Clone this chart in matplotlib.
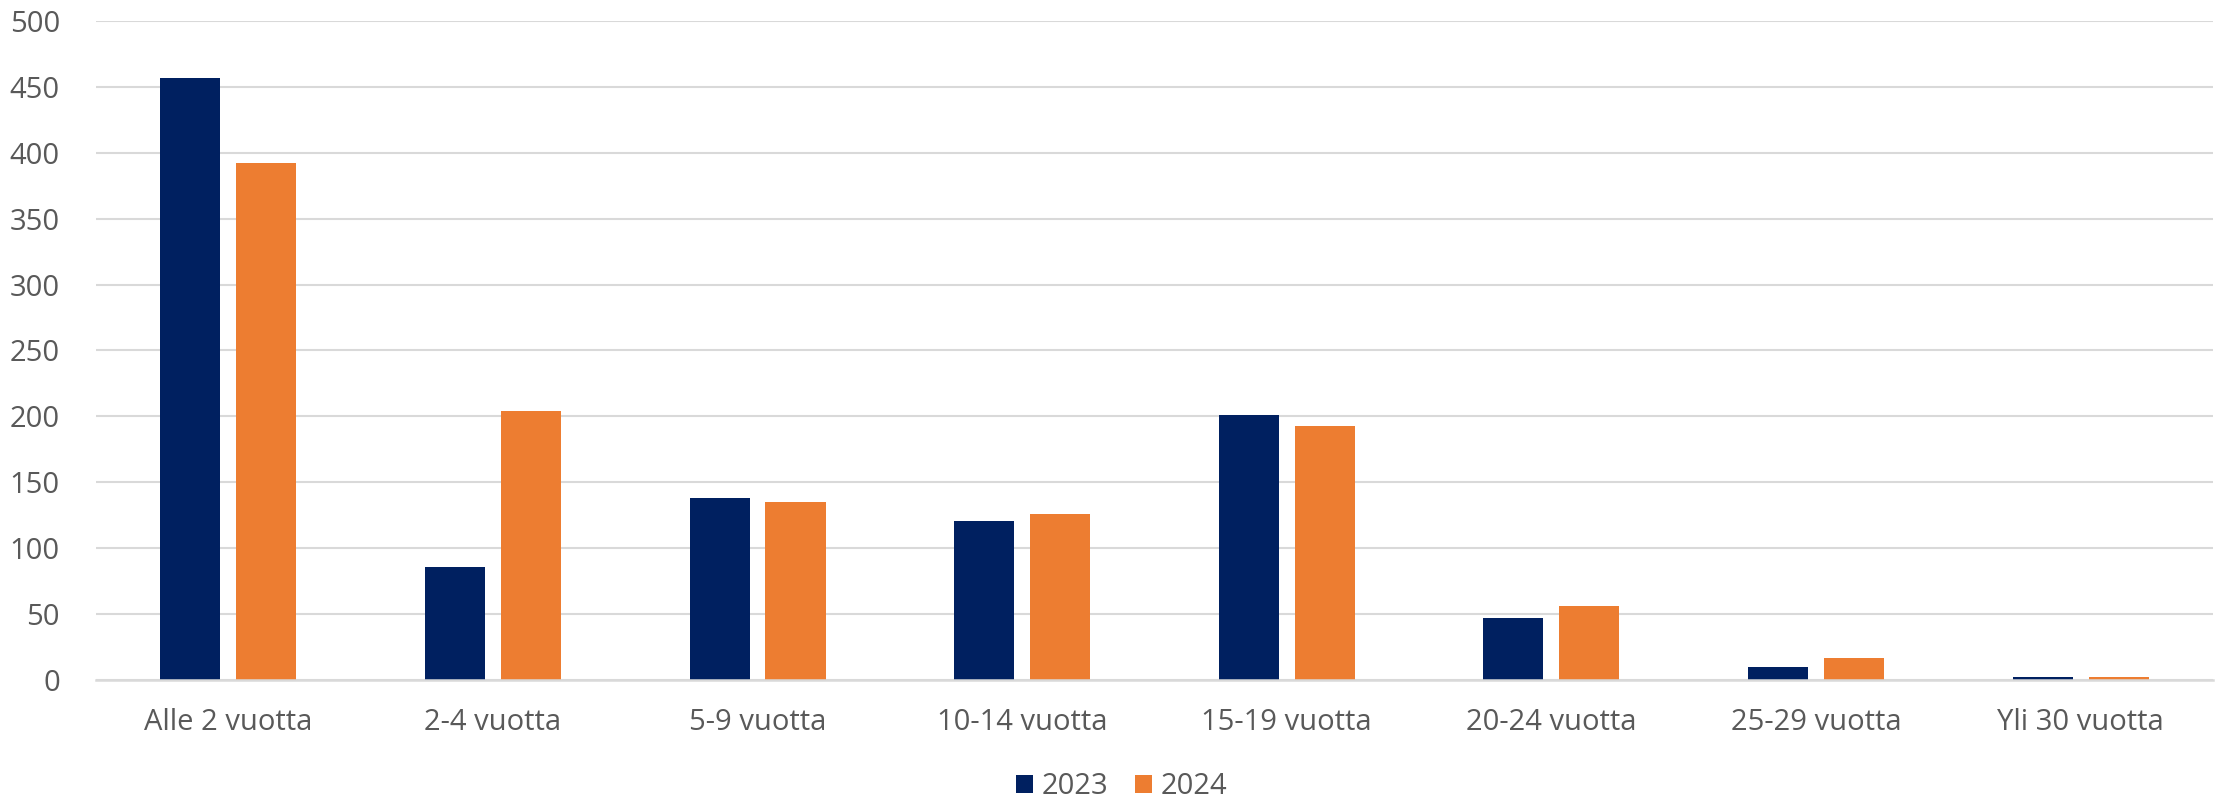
import matplotlib
matplotlib.use("Agg")
import matplotlib.pyplot as plt
import numpy as np

categories = ["Alle 2 vuotta", "2-4 vuotta", "5-9 vuotta", "10-14 vuotta",
              "15-19 vuotta", "20-24 vuotta", "25-29 vuotta", "Yli 30 vuotta"]
series_names = ["2023", "2024"]
values_2023 = [457, 86, 138, 121, 201, 47, 10, 2]
values_2024 = [392, 204, 135, 126, 193, 56, 17, 2]
yticks = [0, 50, 100, 150, 200, 250, 300, 350, 400, 450, 500]

colors = ["#002060", "#ED7D31"]
text_color = "#595959"
grid_color = "#D9D9D9"

plt.rcParams['font.family'] = ['Open Sans', 'DejaVu Sans']

fig = plt.figure(figsize=(22.21, 7.97), dpi=100)
ax = fig.add_axes([0.0432, 0.1468, 0.9532, 0.8269])

x = np.arange(len(categories))
w = 0.227
off = 0.1435
ax.bar(x - off, values_2023, width=w, color=colors[0], label=series_names[0], zorder=3)
ax.bar(x + off, values_2024, width=w, color=colors[1], label=series_names[1], zorder=3)

ax.set_xlim(-0.5, len(categories) - 0.5)
ax.set_ylim(0, 500)
ax.set_yticks(yticks)
ax.set_yticklabels([str(v) for v in yticks])
ax.set_xticks(x)
ax.set_xticklabels(categories)

ax.yaxis.grid(True, color=grid_color, linewidth=1.5, zorder=0)
ax.set_axisbelow(True)
for s in ["top", "right", "left"]:
    ax.spines[s].set_visible(False)
ax.spines["bottom"].set_color(grid_color)
ax.spines["bottom"].set_linewidth(1.8)
ax.spines["bottom"].set_zorder(4)

ax.tick_params(axis="both", length=0, labelsize=21, labelcolor=text_color)
ax.tick_params(axis="y", pad=26)
ax.tick_params(axis="x", pad=20)

leg = fig.legend(loc="center", bbox_to_anchor=(0.505, 0.013), ncol=2, frameon=False,
                 fontsize=21, handlelength=0.6, handleheight=0.6, handletextpad=0.3,
                 columnspacing=0.9)
for t in leg.get_texts():
    t.set_color(text_color)

fig.savefig("out.png", dpi=100)
